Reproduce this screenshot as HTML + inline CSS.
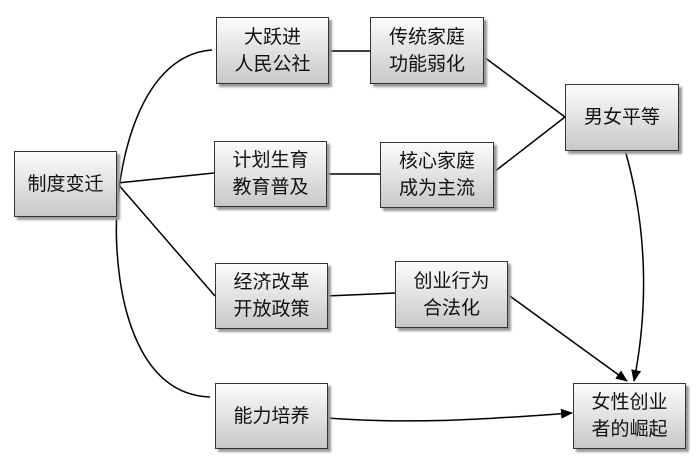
<!DOCTYPE html>
<html><head><meta charset="utf-8"><style>
body{margin:0;background:#fff;width:700px;height:467px;overflow:hidden;position:relative;font-family:"Liberation Sans","Noto Sans CJK SC",sans-serif;}
.b{position:absolute;border:1.5px solid #333;background:linear-gradient(#fcfcfc,#c8c8c8);box-shadow:3px 3px 2px #999;display:flex;align-items:center;justify-content:center;text-align:center;font-size:19px;line-height:27px;color:#111;box-sizing:border-box;}
svg{position:absolute;left:0;top:0}
</style></head><body>
<svg width="700" height="467">
<defs><marker id="a" markerWidth="12" markerHeight="10" refX="11" refY="5" orient="auto" markerUnits="userSpaceOnUse"><path d="M0,0 L12,5 L0,10z" fill="#000"/></marker></defs>
<g fill="none" stroke="#000" stroke-width="1.5">
<path d="M212,50 C135,55 112,180 117,250 C122,330 150,395 210,397"/>
<line x1="117" y1="183" x2="214" y2="173"/>
<line x1="117" y1="183" x2="215" y2="296"/>
<line x1="328" y1="51" x2="370" y2="51"/>
<line x1="326" y1="174" x2="380" y2="174"/>
<line x1="326" y1="296" x2="395" y2="293"/>
<line x1="484" y1="57" x2="565" y2="117"/>
<line x1="494" y1="172" x2="565" y2="117"/>
<line x1="507" y1="294" x2="627" y2="381" marker-end="url(#a)"/>
<path d="M625,150 C648,230 648,310 634,381" marker-end="url(#a)"/>
<path d="M327,418 C420,425 500,418 572,413" marker-end="url(#a)"/>
</g></svg>
<div class="b" style="left:14px;top:151px;width:103px;height:66px">制度变迁</div>
<div class="b" style="left:216px;top:17px;width:113px;height:67px">大跃进<br>人民公社</div>
<div class="b" style="left:214px;top:141px;width:113px;height:66px">计划生育<br>教育普及</div>
<div class="b" style="left:215px;top:263px;width:113px;height:66px">经济改革<br>开放政策</div>
<div class="b" style="left:215px;top:383px;width:113px;height:66px">能力培养</div>
<div class="b" style="left:370px;top:17px;width:114px;height:67px">传统家庭<br>功能弱化</div>
<div class="b" style="left:380px;top:142px;width:114px;height:66px">核心家庭<br>成为主流</div>
<div class="b" style="left:395px;top:261px;width:113px;height:67px">创业行为<br>合法化</div>
<div class="b" style="left:565px;top:84px;width:114px;height:67px">男女平等</div>
<div class="b" style="left:573px;top:383px;width:113px;height:66px">女性创业<br>者的崛起</div>
</body></html>
